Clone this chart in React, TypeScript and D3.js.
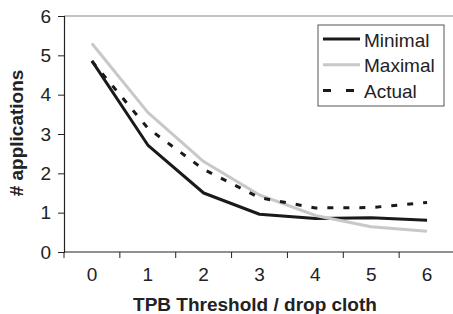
import React, { useEffect, useRef } from 'react';
import * as d3 from 'd3';

const categories = ['0', '1', '2', '3', '4', '5', '6'];
const minimal = [4.86, 2.72, 1.5, 0.96, 0.85, 0.87, 0.81];
const maximal = [5.3, 3.55, 2.3, 1.45, 0.93, 0.64, 0.53];
const actual = [4.85, 3.15, 2.1, 1.38, 1.12, 1.13, 1.26];
const yTicks = [0, 1, 2, 3, 4, 5, 6];

const series = [
  { name: 'Minimal', values: minimal, color: '#1a1a1a', dash: null },
  { name: 'Maximal', values: maximal, color: '#c8c8c8', dash: null },
  { name: 'Actual', values: actual, color: '#1a1a1a', dash: '6,10' },
];

const App = () => {
  const svgRef: any = useRef();

  useEffect(() => {
    const width = 453;
    const height = 314;
    const left = 64;
    const right = 455;
    const top = 16;
    const bottom = 252;
    const font = 'Liberation Sans, Arial, sans-serif';
    const fs = 19;

    const svg = d3.select(svgRef.current)
      .attr('width', width)
      .attr('height', height);
    svg.selectAll('*').remove();

    const x = d3.scaleBand().domain(categories).range([left, right]);
    const y = d3.scaleLinear().domain([0, 6]).range([bottom, top]);

    // plot area border (top)
    svg.append('line')
      .attr('x1', left).attr('x2', right)
      .attr('y1', top).attr('y2', top)
      .attr('stroke', '#888').attr('stroke-width', 1);

    // y axis
    const yAxis = svg.append('g')
      .attr('transform', `translate(${left},0)`)
      .call(d3.axisLeft(y).tickValues(yTicks).tickFormat(d3.format('d')).tickSize(6).tickPadding(7));
    yAxis.select('.domain').attr('stroke', '#222').attr('stroke-width', 1.2);
    yAxis.selectAll('line').attr('stroke', '#222');
    yAxis.selectAll('text')
      .attr('font-size', fs).attr('font-family', font).attr('fill', '#222');

    // x axis: ticks between categories
    const xAxis = svg.append('g').attr('transform', `translate(0,${bottom})`);
    xAxis.append('line')
      .attr('x1', left).attr('x2', right)
      .attr('stroke', '#222').attr('stroke-width', 1.2);
    xAxis.selectAll('.tk')
      .data(categories)
      .enter().append('line')
      .attr('x1', d => x(d) as number).attr('x2', d => x(d) as number)
      .attr('y1', 0).attr('y2', 6)
      .attr('stroke', '#222');
    xAxis.selectAll('.lb')
      .data(categories)
      .enter().append('text')
      .attr('x', d => (x(d) as number) + x.bandwidth() / 2)
      .attr('y', 29)
      .attr('text-anchor', 'middle')
      .attr('font-size', fs).attr('font-family', font).attr('fill', '#222')
      .text(d => d);

    // lines
    const line = d3.line<number>()
      .x((_, i) => (x(categories[i]) as number) + x.bandwidth() / 2)
      .y(d => y(d));

    series.forEach(s => {
      svg.append('path')
        .datum(s.values)
        .attr('d', line)
        .attr('fill', 'none')
        .attr('stroke', s.color)
        .attr('stroke-width', 3)
        .attr('stroke-dasharray', s.dash)
        .attr('stroke-linejoin', 'round');
    });

    // axis titles
    svg.append('text')
      .attr('x', 255).attr('y', 311)
      .attr('text-anchor', 'middle')
      .attr('font-size', fs).attr('font-weight', 'bold')
      .attr('font-family', font).attr('fill', '#222')
      .text('TPB Threshold / drop cloth');
    svg.append('text')
      .attr('transform', 'translate(23,133) rotate(-90)')
      .attr('text-anchor', 'middle')
      .attr('font-size', fs).attr('font-weight', 'bold')
      .attr('font-family', font).attr('fill', '#222')
      .text('# applications');

    // legend
    const lg = svg.append('g').attr('transform', 'translate(318,25)');
    lg.append('rect')
      .attr('width', 126).attr('height', 81)
      .attr('fill', '#fff').attr('stroke', '#555').attr('stroke-width', 1);
    series.forEach((s, i) => {
      const cy = 14 + i * 25.8;
      lg.append('line')
        .attr('x1', 5).attr('x2', 42)
        .attr('y1', cy).attr('y2', cy)
        .attr('stroke', s.color).attr('stroke-width', 3)
        .attr('stroke-dasharray', s.dash ? '8,15' : null);
      lg.append('text')
        .attr('x', 46).attr('y', cy + 7.5)
        .attr('font-size', fs).attr('font-family', font).attr('fill', '#222')
        .text(s.name);
    });
  }, []);

  return <svg ref={svgRef} style={{ position: 'absolute', left: 0, top: 0 }}></svg>;
};

export default App;
